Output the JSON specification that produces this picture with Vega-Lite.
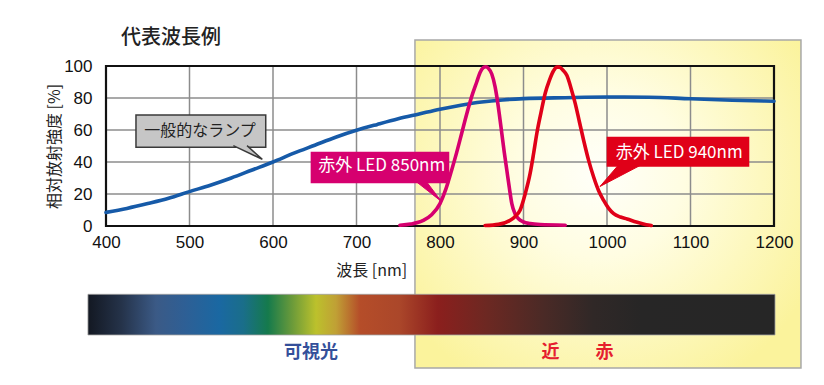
{
  "$schema": "https://vega.github.io/schema/vega-lite/v6.json",
  "autosize": "none",
  "width": 668,
  "height": 160,
  "padding": {"left": 106, "top": 66, "right": 50, "bottom": 159},
  "background": "white",
  "config": {
    "view": {"stroke": null},
    "axisY": {"labelOverlap": false, "labelFlush": false, "labelBound": false, "tickCount": 6},
    "axisX": {"labelOverlap": false, "labelFlush": false, "labelBound": false}
  },
  "datasets": {
    "one": [{}],
    "curves": [
      {"wl": 400, "v": 8.5, "s": "一般的なランプ"},
      {"wl": 425, "v": 11, "s": "一般的なランプ"},
      {"wl": 450, "v": 14, "s": "一般的なランプ"},
      {"wl": 475, "v": 17.3, "s": "一般的なランプ"},
      {"wl": 500, "v": 21.5, "s": "一般的なランプ"},
      {"wl": 525, "v": 25.5, "s": "一般的なランプ"},
      {"wl": 550, "v": 30, "s": "一般的なランプ"},
      {"wl": 575, "v": 35, "s": "一般的なランプ"},
      {"wl": 600, "v": 40, "s": "一般的なランプ"},
      {"wl": 625, "v": 45.5, "s": "一般的なランプ"},
      {"wl": 650, "v": 50.5, "s": "一般的なランプ"},
      {"wl": 675, "v": 55.5, "s": "一般的なランプ"},
      {"wl": 700, "v": 59.8, "s": "一般的なランプ"},
      {"wl": 725, "v": 63.5, "s": "一般的なランプ"},
      {"wl": 750, "v": 67, "s": "一般的なランプ"},
      {"wl": 775, "v": 70, "s": "一般的なランプ"},
      {"wl": 800, "v": 73, "s": "一般的なランプ"},
      {"wl": 825, "v": 75.5, "s": "一般的なランプ"},
      {"wl": 850, "v": 77.5, "s": "一般的なランプ"},
      {"wl": 875, "v": 78.8, "s": "一般的なランプ"},
      {"wl": 900, "v": 79.6, "s": "一般的なランプ"},
      {"wl": 950, "v": 80.2, "s": "一般的なランプ"},
      {"wl": 1000, "v": 80.6, "s": "一般的なランプ"},
      {"wl": 1050, "v": 80.5, "s": "一般的なランプ"},
      {"wl": 1100, "v": 79.5, "s": "一般的なランプ"},
      {"wl": 1150, "v": 78.6, "s": "一般的なランプ"},
      {"wl": 1200, "v": 78, "s": "一般的なランプ"},
      {"wl": 752, "v": 0.5, "s": "赤外 LED 850nm"},
      {"wl": 765, "v": 1.2, "s": "赤外 LED 850nm"},
      {"wl": 780, "v": 3.5, "s": "赤外 LED 850nm"},
      {"wl": 790, "v": 7, "s": "赤外 LED 850nm"},
      {"wl": 800, "v": 14, "s": "赤外 LED 850nm"},
      {"wl": 807, "v": 23, "s": "赤外 LED 850nm"},
      {"wl": 814, "v": 35, "s": "赤外 LED 850nm"},
      {"wl": 820, "v": 46, "s": "赤外 LED 850nm"},
      {"wl": 826, "v": 58, "s": "赤外 LED 850nm"},
      {"wl": 832, "v": 70, "s": "赤外 LED 850nm"},
      {"wl": 838, "v": 81, "s": "赤外 LED 850nm"},
      {"wl": 844, "v": 90, "s": "赤外 LED 850nm"},
      {"wl": 848, "v": 96, "s": "赤外 LED 850nm"},
      {"wl": 852, "v": 99, "s": "赤外 LED 850nm"},
      {"wl": 855, "v": 99.5, "s": "赤外 LED 850nm"},
      {"wl": 858, "v": 98.5, "s": "赤外 LED 850nm"},
      {"wl": 862, "v": 95, "s": "赤外 LED 850nm"},
      {"wl": 866, "v": 87, "s": "赤外 LED 850nm"},
      {"wl": 868, "v": 81, "s": "赤外 LED 850nm"},
      {"wl": 871, "v": 70, "s": "赤外 LED 850nm"},
      {"wl": 874, "v": 58, "s": "赤外 LED 850nm"},
      {"wl": 877, "v": 46, "s": "赤外 LED 850nm"},
      {"wl": 880, "v": 35, "s": "赤外 LED 850nm"},
      {"wl": 883, "v": 24, "s": "赤外 LED 850nm"},
      {"wl": 886, "v": 14, "s": "赤外 LED 850nm"},
      {"wl": 890, "v": 7.5, "s": "赤外 LED 850nm"},
      {"wl": 894, "v": 4.5, "s": "赤外 LED 850nm"},
      {"wl": 900, "v": 2.5, "s": "赤外 LED 850nm"},
      {"wl": 908, "v": 1.5, "s": "赤外 LED 850nm"},
      {"wl": 920, "v": 0.9, "s": "赤外 LED 850nm"},
      {"wl": 950, "v": 0.5, "s": "赤外 LED 850nm"},
      {"wl": 854, "v": 0.3, "s": "赤外 LED 940nm"},
      {"wl": 870, "v": 1, "s": "赤外 LED 940nm"},
      {"wl": 884, "v": 3.6, "s": "赤外 LED 940nm"},
      {"wl": 890, "v": 6, "s": "赤外 LED 940nm"},
      {"wl": 896, "v": 10, "s": "赤外 LED 940nm"},
      {"wl": 902, "v": 20, "s": "赤外 LED 940nm"},
      {"wl": 908, "v": 33, "s": "赤外 LED 940nm"},
      {"wl": 912, "v": 45, "s": "赤外 LED 940nm"},
      {"wl": 916, "v": 58, "s": "赤外 LED 940nm"},
      {"wl": 921, "v": 71, "s": "赤外 LED 940nm"},
      {"wl": 926, "v": 83, "s": "赤外 LED 940nm"},
      {"wl": 931, "v": 91, "s": "赤外 LED 940nm"},
      {"wl": 936, "v": 97, "s": "赤外 LED 940nm"},
      {"wl": 940, "v": 99.3, "s": "赤外 LED 940nm"},
      {"wl": 943, "v": 99.3, "s": "赤外 LED 940nm"},
      {"wl": 947, "v": 97.5, "s": "赤外 LED 940nm"},
      {"wl": 952, "v": 94, "s": "赤外 LED 940nm"},
      {"wl": 957, "v": 86, "s": "赤外 LED 940nm"},
      {"wl": 962, "v": 76.5, "s": "赤外 LED 940nm"},
      {"wl": 967, "v": 65, "s": "赤外 LED 940nm"},
      {"wl": 972, "v": 53.6, "s": "赤外 LED 940nm"},
      {"wl": 978, "v": 41, "s": "赤外 LED 940nm"},
      {"wl": 984, "v": 30.6, "s": "赤外 LED 940nm"},
      {"wl": 990, "v": 22, "s": "赤外 LED 940nm"},
      {"wl": 996, "v": 16, "s": "赤外 LED 940nm"},
      {"wl": 1002, "v": 11, "s": "赤外 LED 940nm"},
      {"wl": 1008, "v": 7.7, "s": "赤外 LED 940nm"},
      {"wl": 1016, "v": 5.6, "s": "赤外 LED 940nm"},
      {"wl": 1024, "v": 4.4, "s": "赤外 LED 940nm"},
      {"wl": 1035, "v": 2.5, "s": "赤外 LED 940nm"},
      {"wl": 1047, "v": 0.8, "s": "赤外 LED 940nm"},
      {"wl": 1053, "v": 0.3, "s": "赤外 LED 940nm"}
    ],
    "gridx": [{"g": 500}, {"g": 600}, {"g": 700}, {"g": 800}, {"g": 900}, {"g": 1000}, {"g": 1100}],
    "gridy": [{"g": 20}, {"g": 40}, {"g": 60}, {"g": 80}],
    "pointers": [
      {"id": "lamp", "o": 1, "wl": 552.5, "v": 50.2},
      {"id": "lamp", "o": 2, "wl": 587.2, "v": 41.7},
      {"id": "lamp", "o": 3, "wl": 568.9, "v": 50.2},
      {"id": "850", "o": 1, "wl": 772.1, "v": 27.5},
      {"id": "850", "o": 2, "wl": 802.0, "v": 15.2},
      {"id": "850", "o": 3, "wl": 784.1, "v": 27.5},
      {"id": "940", "o": 1, "wl": 1013.2, "v": 37.8},
      {"id": "940", "o": 2, "wl": 991.6, "v": 24.7},
      {"id": "940", "o": 3, "wl": 1039.5, "v": 37.8}
    ]
  },
  "layer": [
    {
      "data": {"name": "one"},
      "mark": {"type": "rect", "stroke": "#a8a8a8", "strokeWidth": 1.5,
        "fill": {"gradient": "radial", "x1": 0.48, "y1": 0.42, "r1": 0, "x2": 0.48, "y2": 0.42, "r2": 0.62,
          "stops": [{"offset": 0, "color": "#fffffa"}, {"offset": 0.35, "color": "#fffde2"}, {"offset": 1, "color": "#fbf39c"}]}},
      "encoding": {
        "x": {"datum": 770, "type": "quantitative", "scale": {"domain": [400, 1200], "nice": false, "zero": false},
          "axis": {"values": [400, 500, 600, 700, 800, 900, 1000, 1100, 1200], "format": "d", "title": null, "grid": false, "ticks": false, "domain": false,
            "labelFont": "Liberation Sans", "labelFontSize": 17, "labelColor": "#111111", "labelPadding": 8, "labelOverlap": false, "labelFlush": false, "zindex": 1}},
        "x2": {"datum": 1232.3},
        "y": {"datum": 116.25, "type": "quantitative", "scale": {"domain": [0, 100], "nice": false},
          "axis": {"values": [0, 20, 40, 60, 80, 100], "format": "d", "title": "相対放射強度 [%]", "grid": false, "ticks": false, "domain": false,
            "labelFont": "Liberation Sans", "labelFontSize": 17, "labelColor": "#111111", "labelPadding": 14, "labelOverlap": false, "labelFlush": false,
            "titleFont": "Noto Sans CJK JP", "titleFontSize": 16, "titleFontWeight": "normal", "titleColor": "#222222", "titlePadding": 1, "zindex": 1}},
        "y2": {"datum": -88.75}
      }
    },
    {
      "data": {"name": "gridx"},
      "mark": {"type": "rule", "stroke": "#8c8c8c", "strokeWidth": 1.5},
      "encoding": {
        "x": {"field": "g", "type": "quantitative"},
        "y": {"datum": 0, "type": "quantitative"},
        "y2": {"datum": 100}
      }
    },
    {
      "data": {"name": "gridy"},
      "mark": {"type": "rule", "stroke": "#8c8c8c", "strokeWidth": 1.5},
      "encoding": {
        "y": {"field": "g", "type": "quantitative"},
        "x": {"datum": 400, "type": "quantitative"},
        "x2": {"datum": 1200}
      }
    },
    {
      "data": {"name": "one"},
      "mark": {"type": "rect", "fill": null, "stroke": "#111111", "strokeWidth": 2.2},
      "encoding": {
        "x": {"datum": 400, "type": "quantitative"},
        "x2": {"datum": 1200},
        "y": {"datum": 0, "type": "quantitative"},
        "y2": {"datum": 100}
      }
    },
    {
      "data": {"name": "curves"},
      "mark": {"type": "line", "strokeWidth": 3.6, "interpolate": "monotone", "strokeCap": "round"},
      "encoding": {
        "x": {"field": "wl", "type": "quantitative"},
        "y": {"field": "v", "type": "quantitative"},
        "color": {"field": "s", "type": "nominal", "legend": null,
          "scale": {"domain": ["一般的なランプ", "赤外 LED 850nm", "赤外 LED 940nm"], "range": ["#165aa8", "#d6006f", "#e00018"]}}
      }
    },
    {
      "data": {"name": "one"},
      "mark": {"type": "rect", "fill": "#c6c6c6", "stroke": "#3a3a3a", "strokeWidth": 1.5},
      "encoding": {
        "x": {"datum": 435.9, "type": "quantitative"},
        "x2": {"datum": 591.3},
        "y": {"datum": 69.4, "type": "quantitative"},
        "y2": {"datum": 49.2}
      }
    },
    {
      "data": {"name": "pointers"},
      "transform": [{"filter": "datum.id === 'lamp'"}],
      "mark": {"type": "line", "fill": "#c6c6c6", "stroke": "#3a3a3a", "strokeWidth": 1.5, "interpolate": "linear"},
      "encoding": {
        "x": {"field": "wl", "type": "quantitative"},
        "y": {"field": "v", "type": "quantitative"},
        "order": {"field": "o"}
      }
    },
    {
      "data": {"name": "one"},
      "mark": {"type": "text", "text": "一般的なランプ", "font": "Noto Sans CJK JP", "fontSize": 16, "color": "#222222", "align": "center", "baseline": "middle"},
      "encoding": {
        "x": {"datum": 512.6, "type": "quantitative"},
        "y": {"datum": 59.4, "type": "quantitative"}
      }
    },
    {
      "data": {"name": "one"},
      "mark": {"type": "rect", "fill": "#d6006f"},
      "encoding": {
        "x": {"datum": 645.1, "type": "quantitative"},
        "x2": {"datum": 811.1},
        "y": {"datum": 46.4, "type": "quantitative"},
        "y2": {"datum": 26.7}
      }
    },
    {
      "data": {"name": "pointers"},
      "transform": [{"filter": "datum.id === '850'"}],
      "mark": {"type": "line", "fill": "#d6006f", "stroke": "#d6006f", "strokeWidth": 1, "interpolate": "linear"},
      "encoding": {
        "x": {"field": "wl", "type": "quantitative"},
        "y": {"field": "v", "type": "quantitative"},
        "order": {"field": "o"}
      }
    },
    {
      "data": {"name": "one"},
      "mark": {"type": "text", "text": "赤外 LED 850nm", "font": "Noto Sans CJK JP", "fontSize": 17, "color": "white", "align": "center", "baseline": "middle"},
      "encoding": {
        "x": {"datum": 730.2, "type": "quantitative"},
        "y": {"datum": 37.6, "type": "quantitative"}
      }
    },
    {
      "data": {"name": "one"},
      "mark": {"type": "rect", "fill": "#e00018"},
      "encoding": {
        "x": {"datum": 999.6, "type": "quantitative"},
        "x2": {"datum": 1170.4},
        "y": {"datum": 55.8, "type": "quantitative"},
        "y2": {"datum": 37.1}
      }
    },
    {
      "data": {"name": "pointers"},
      "transform": [{"filter": "datum.id === '940'"}],
      "mark": {"type": "line", "fill": "#e00018", "stroke": "#e00018", "strokeWidth": 1, "interpolate": "linear"},
      "encoding": {
        "x": {"field": "wl", "type": "quantitative"},
        "y": {"field": "v", "type": "quantitative"},
        "order": {"field": "o"}
      }
    },
    {
      "data": {"name": "one"},
      "mark": {"type": "text", "text": "赤外 LED 940nm", "font": "Noto Sans CJK JP", "fontSize": 17, "color": "white", "align": "center", "baseline": "middle"},
      "encoding": {
        "x": {"datum": 1086.4, "type": "quantitative"},
        "y": {"datum": 45.9, "type": "quantitative"}
      }
    },
    {
      "data": {"name": "one"},
      "mark": {"type": "rect", "stroke": "#a0a0a0", "strokeWidth": 0.8,
        "fill": {"gradient": "linear", "x1": 0, "y1": 0, "x2": 1, "y2": 0,
          "stops": [
            {"offset": 0, "color": "#131822"},
            {"offset": 0.049, "color": "#25334a"},
            {"offset": 0.099, "color": "#3b5a86"},
            {"offset": 0.141, "color": "#2e5f95"},
            {"offset": 0.191, "color": "#1a68a2"},
            {"offset": 0.226, "color": "#1a6e8a"},
            {"offset": 0.262, "color": "#157a4c"},
            {"offset": 0.297, "color": "#6a9a3a"},
            {"offset": 0.332, "color": "#bcc12c"},
            {"offset": 0.361, "color": "#c0a035"},
            {"offset": 0.396, "color": "#b54d29"},
            {"offset": 0.453, "color": "#ab472a"},
            {"offset": 0.509, "color": "#8b1f1d"},
            {"offset": 0.579, "color": "#6d2822"},
            {"offset": 0.664, "color": "#4a2a26"},
            {"offset": 0.735, "color": "#302827"},
            {"offset": 0.805, "color": "#272626"},
            {"offset": 1, "color": "#262626"}
          ]}},
      "encoding": {
        "x": {"datum": 378.4, "type": "quantitative"},
        "x2": {"datum": 1201.2},
        "y": {"datum": -42.7, "type": "quantitative"},
        "y2": {"datum": -68.1}
      }
    },
    {
      "data": {"name": "one"},
      "mark": {"type": "text", "text": "代表波長例", "font": "Noto Sans CJK JP", "fontSize": 20, "fontWeight": 500, "color": "#222222", "align": "center", "baseline": "middle"},
      "encoding": {
        "x": {"datum": 477.8, "type": "quantitative"},
        "y": {"datum": 117.2, "type": "quantitative"}
      }
    },
    {
      "data": {"name": "one"},
      "mark": {"type": "text", "text": "波長 [nm]", "font": "Noto Sans CJK JP", "fontSize": 16, "color": "#222222", "align": "center", "baseline": "middle"},
      "encoding": {
        "x": {"datum": 718.2, "type": "quantitative"},
        "y": {"datum": -28.1, "type": "quantitative"}
      }
    },
    {
      "data": {"name": "one"},
      "mark": {"type": "text", "text": "可視光", "font": "Noto Sans CJK JP", "fontSize": 18, "fontWeight": "bold", "color": "#34509a", "align": "center", "baseline": "middle"},
      "encoding": {
        "x": {"datum": 645.5, "type": "quantitative"},
        "y": {"datum": -79.6, "type": "quantitative"}
      }
    },
    {
      "data": {"name": "one"},
      "mark": {"type": "text", "text": "近　　赤", "font": "Noto Sans CJK JP", "fontSize": 18, "fontWeight": "bold", "color": "#e5202e", "align": "center", "baseline": "middle"},
      "encoding": {
        "x": {"datum": 964.7, "type": "quantitative"},
        "y": {"datum": -79.6, "type": "quantitative"}
      }
    }
  ]
}
